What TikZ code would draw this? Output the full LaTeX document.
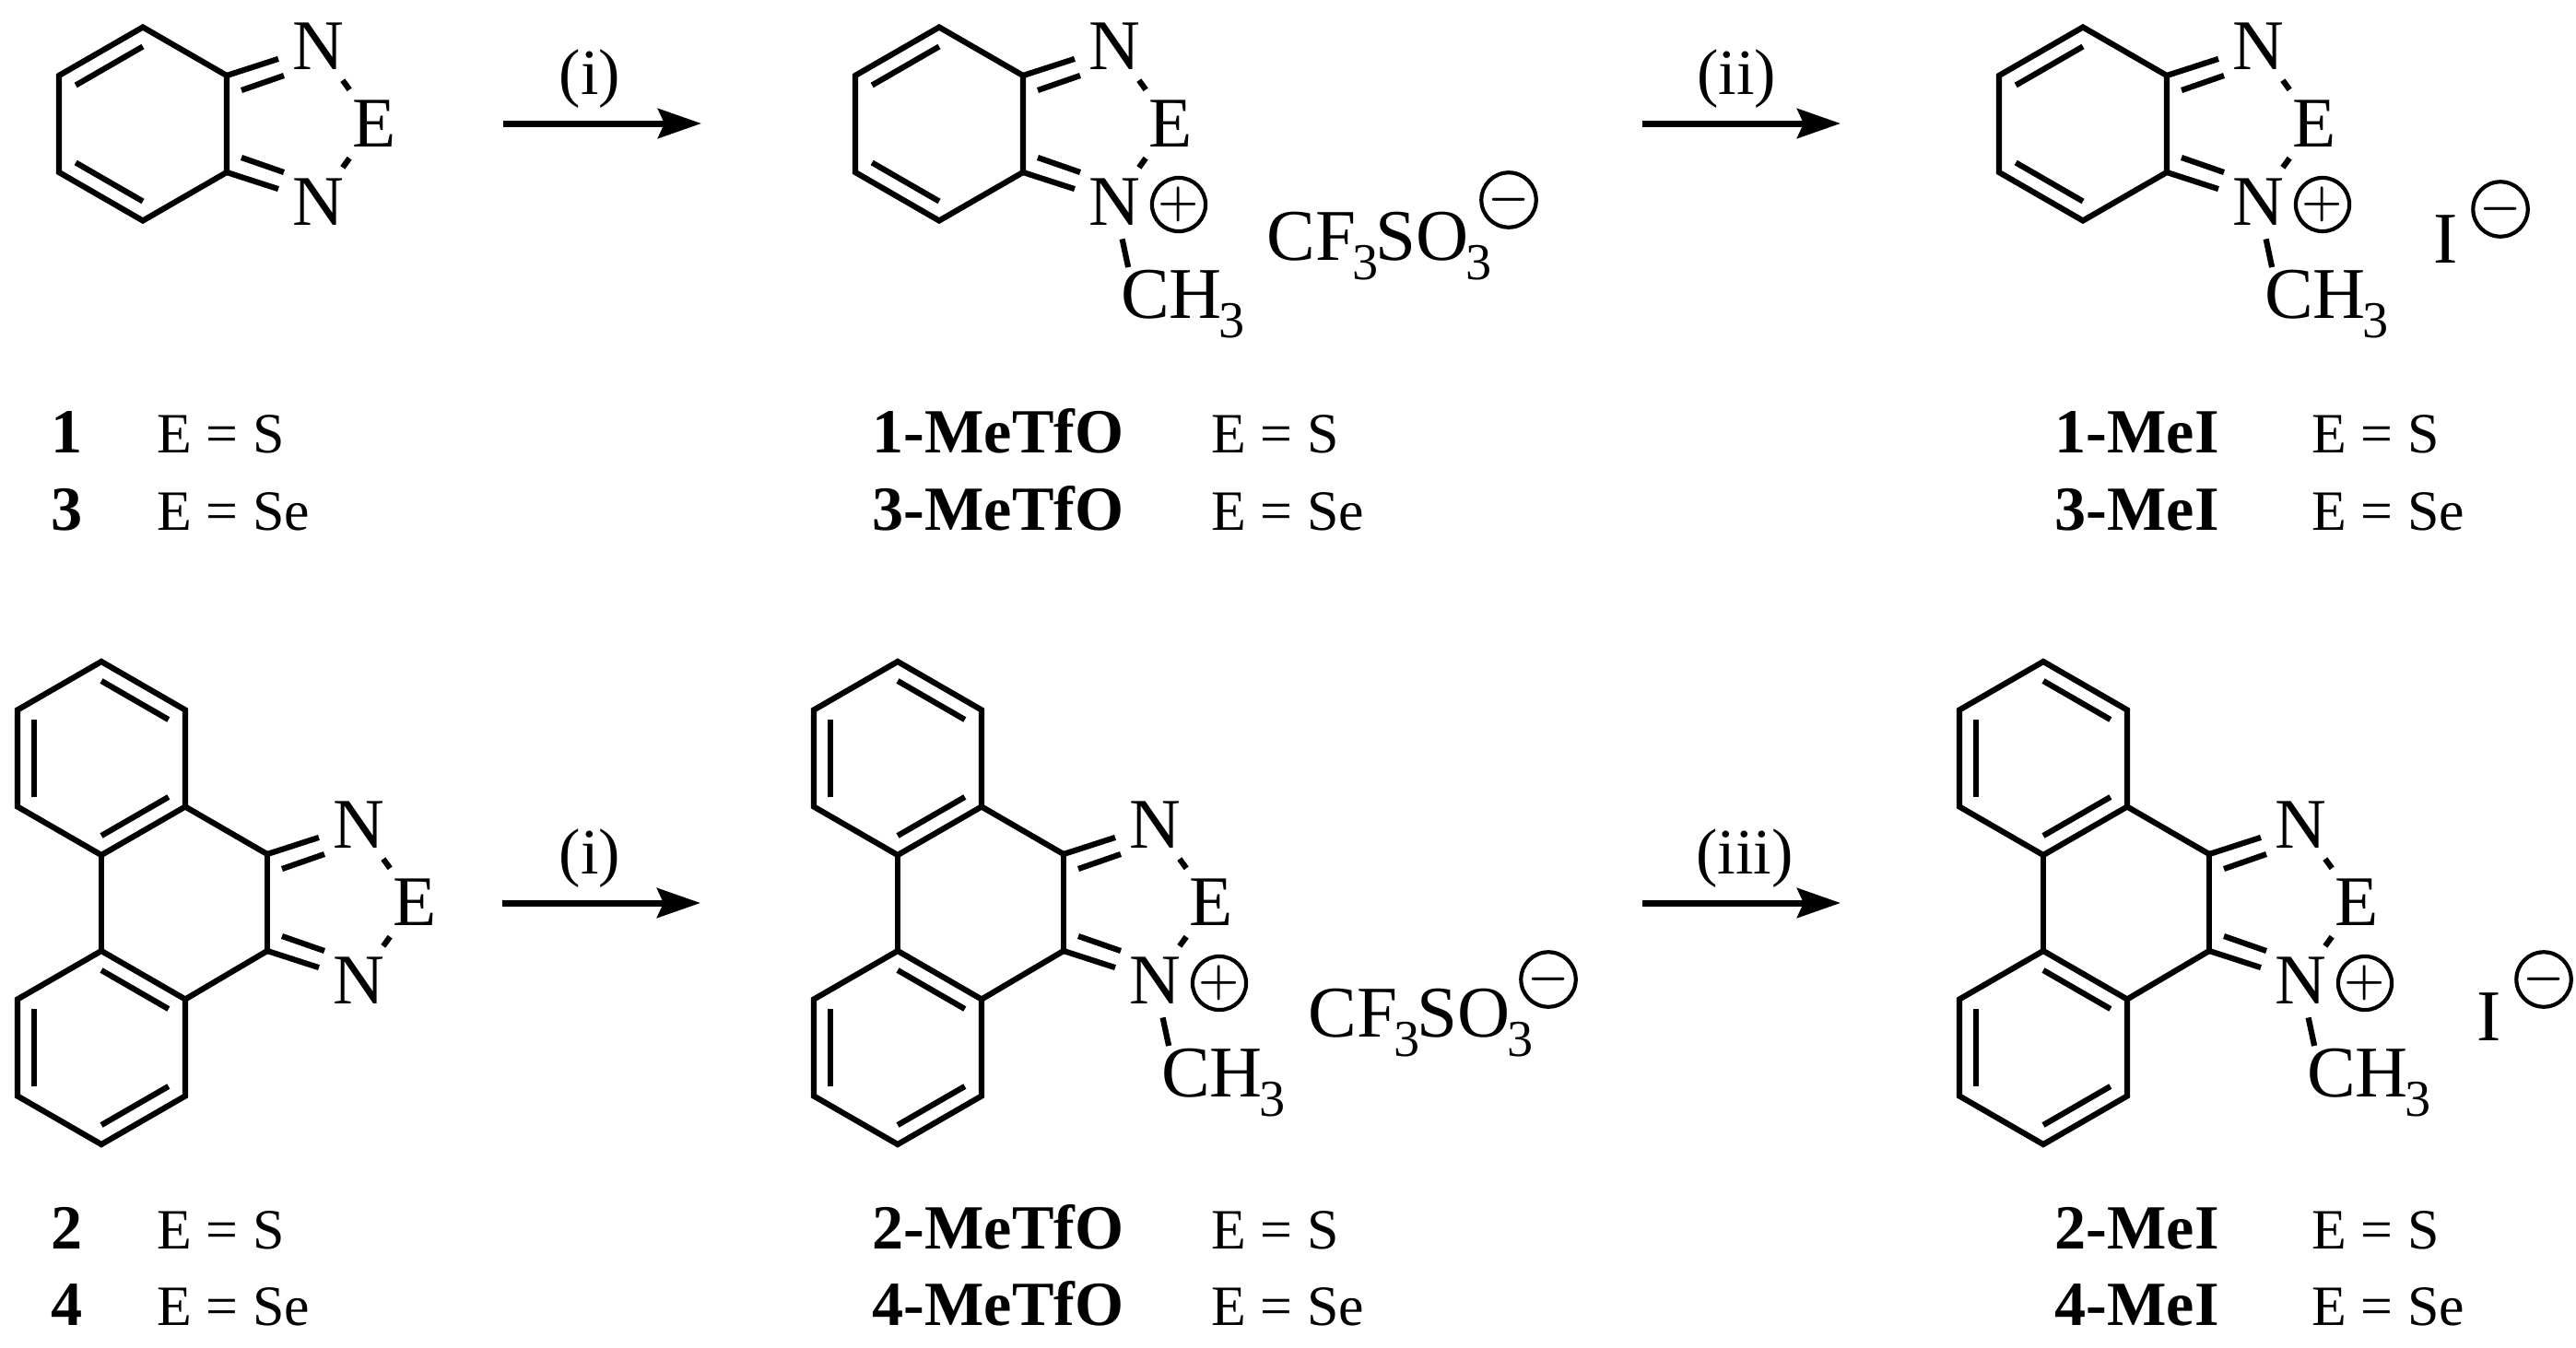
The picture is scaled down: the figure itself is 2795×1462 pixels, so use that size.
\documentclass[tikz,border=0pt]{standalone}
\usepackage{fontspec}
\setmainfont{Liberation Serif}
\usetikzlibrary{arrows.meta,calc}
\newcommand{\subthree}{\raisebox{-0.27em}{\kern-1pt\fontsize{16}{16}\selectfont 3\kern-1pt}}
\newcommand{\diazolecode}{
  \coordinate (-c1) at (0,-52.5);
  \coordinate (-c2) at (0,52.5);
  \coordinate (-d1a) at (16,-36.5);
  \coordinate (-d1b) at (62,-52.5);
  \coordinate (-d2a) at (16,36.5);
  \coordinate (-d2b) at (62,52.5);
  \node[atom] (-n1) at (99,-84.5) {N};
  \node[atom] (-e) at (160,0) {E};
  \node[atom] (-n2) at (99,84.5) {N};
  \draw (-c1) -- (-c2);
  \draw (-c1) -- (-n1);
  \draw (-d1a) -- (-d1b);
  \draw (-c2) -- (-n2);
  \draw (-d2a) -- (-d2b);
  \draw[shorten <=-0.4mm,shorten >=-0.4mm] (-n1) -- (-e);
  \draw[shorten <=-0.4mm,shorten >=-0.4mm] (-e) -- (-n2);
}
\tikzset{
  bond/.style={line width=0.62mm},
  atom/.style={inner sep=1.2mm,font=\fontsize{22}{26}\selectfont},
  formula/.style={inner sep=0pt,anchor=base west,font=\fontsize{22.5}{26}\selectfont},
  charge/.style={circle,draw,line width=0.42mm,minimum size=4.6mm,inner sep=0pt,font=\fontsize{14}{14}\selectfont\boldmath},
  compound/.style={inner sep=0pt,font=\fontsize{19.4}{22}\selectfont\bfseries},
  element/.style={inner sep=0pt,anchor=base west,font=\fontsize{17.6}{22}\selectfont},
  reagent/.style={inner sep=0pt,font=\fontsize{20}{24}\selectfont},
  reaction/.style={line width=0.7mm,-{Stealth[length=4.7mm,width=3.2mm,inset=0.7mm]}},
  pics/hexring/.style={code={
    \coordinate (-m) at (0,0);
    \coordinate (-v1) at (0,-105);
    \coordinate (-v2) at (91,-52.5);
    \coordinate (-v3) at (91,52.5);
    \coordinate (-v4) at (0,105);
    \coordinate (-v5) at (-91,52.5);
    \coordinate (-v6) at (-91,-52.5);
    \draw[bond,line join=miter] (-v1) -- (-v2) -- (-v3) -- (-v4) -- (-v5) -- (-v6) -- cycle;
    \foreach \i/\j in {#1}
      \draw[bond] ($(-v\i)!0.2!(-m)$) -- ($(-v\j)!0.2!(-m)$);
  }},
  pics/diazole/.style={code={\begin{scope}[bond]\diazolecode\end{scope}}},
  pics/methyldiazole/.style={code={
    \begin{scope}[bond]
      \diazolecode
      \node[charge] (-plus) at (169,87.5) {$+$};
      \node[formula] (-me) at (103,211) {CH\subthree};
      \draw (-n2) -- (-me.145);
    \end{scope}
  }}
}
\begin{document}
\begin{tikzpicture}[x=0.1mm,y=-0.1mm]
  \useasboundingbox (0,0) rectangle (2795,1462);
  % top row
  \pic (r1) at (155,134.5) {hexring={6/1,5/4}};
  \pic (d1) at (246,134.5) {diazole};
  \pic (r2) at (1019,134.5) {hexring={6/1,5/4}};
  \pic (d2) at (1110,134.5) {methyldiazole};
  \pic (r3) at (2260,134.5) {hexring={6/1,5/4}};
  \pic (d3) at (2351,134.5) {methyldiazole};
  \node[formula] (tf2) at (1374,282) {CF\subthree SO\subthree};
  \node[charge] (neg2) at (1637,217) {$-$};
  \node[formula] (i3) at (2640,285) {I};
  \node[charge] (neg3) at (2713,227) {$-$};
  % bottom row
  \pic (up4) at (110,823) {hexring={1/2,5/6,3/4}};
  \pic (lo4) at (110,1137) {hexring={1/2,5/6,3/4}};
  \pic (d4) at (290,979.5) {diazole};
  \pic (up5) at (974,823) {hexring={1/2,5/6,3/4}};
  \pic (lo5) at (974,1137) {hexring={1/2,5/6,3/4}};
  \pic (d5) at (1154,979.5) {methyldiazole};
  \pic (up6) at (2217,823) {hexring={1/2,5/6,3/4}};
  \pic (lo6) at (2217,1137) {hexring={1/2,5/6,3/4}};
  \pic (d6) at (2397,979.5) {methyldiazole};
  \foreach \k in {4,5,6} {
    \draw[bond] (up\k-v4) -- (lo\k-v1);
    \draw[bond] (up\k-v3) -- (d\k-c1);
    \draw[bond] (lo\k-v2) -- (d\k-c2);
  }
  \node[formula] (tf5) at (1419,1125) {CF\subthree SO\subthree};
  \node[charge] (neg5) at (1680,1063) {$-$};
  \node[formula] (i6) at (2687,1129) {I};
  \node[charge] (neg6) at (2760,1063) {$-$};
  % arrows
  \coordinate (a1s) at (546,134);
  \coordinate (a1e) at (761,134);
  \coordinate (a2s) at (1782,134);
  \coordinate (a2e) at (1997,134);
  \coordinate (a3s) at (545,980);
  \coordinate (a3e) at (760,980);
  \coordinate (a4s) at (1782,980);
  \coordinate (a4e) at (1997,980);
  \draw[reaction] (a1s) -- (a1e);
  \draw[reaction] (a2s) -- (a2e);
  \draw[reaction] (a3s) -- (a3e);
  \draw[reaction] (a4s) -- (a4e);
  \node[reagent] (t1) at (640,86) {(i)};
  \node[reagent] (t2) at (1884,86) {(ii)};
  \node[reagent] (t3) at (640,932) {(i)};
  \node[reagent] (t4) at (1893,932) {(iii)};
  % labels
  \node[compound,anchor=base] (l1) at (73,491) {1};
  \node[compound,anchor=base] (l3) at (73,575) {3};
  \node[element] (e1) at (170,491) {E = S};
  \node[element] (e3) at (170,575) {E = Se};
  \node[compound,anchor=base west] (l1t) at (946,491) {1-MeTfO};
  \node[compound,anchor=base west] (l3t) at (946,575) {3-MeTfO};
  \node[element] (e1t) at (1314,491) {E = S};
  \node[element] (e3t) at (1314,575) {E = Se};
  \node[compound,anchor=base west] (l1i) at (2229,491) {1-MeI};
  \node[compound,anchor=base west] (l3i) at (2229,575) {3-MeI};
  \node[element] (e1i) at (2508,491) {E = S};
  \node[element] (e3i) at (2508,575) {E = Se};
  \node[compound,anchor=base] (l2) at (73,1355) {2};
  \node[compound,anchor=base] (l4) at (73,1438) {4};
  \node[element] (e2) at (170,1355) {E = S};
  \node[element] (e4) at (170,1438) {E = Se};
  \node[compound,anchor=base west] (l2t) at (946,1355) {2-MeTfO};
  \node[compound,anchor=base west] (l4t) at (946,1438) {4-MeTfO};
  \node[element] (e2t) at (1314,1355) {E = S};
  \node[element] (e4t) at (1314,1438) {E = Se};
  \node[compound,anchor=base west] (l2i) at (2229,1355) {2-MeI};
  \node[compound,anchor=base west] (l4i) at (2229,1438) {4-MeI};
  \node[element] (e2i) at (2508,1355) {E = S};
  \node[element] (e4i) at (2508,1438) {E = Se};
\end{tikzpicture}
\end{document}
